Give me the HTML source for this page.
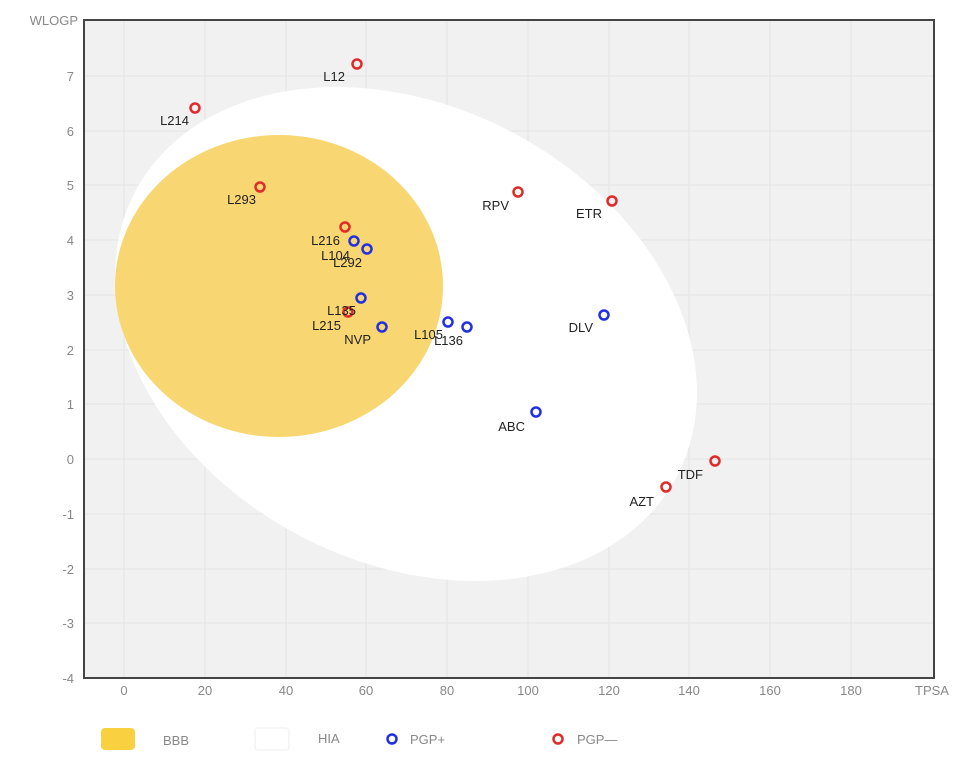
<!DOCTYPE html>
<html><head><meta charset="utf-8"><style>
html,body{margin:0;padding:0;background:#fff;}
svg{display:block;font-family:"Liberation Sans",sans-serif;}
.t{fill:#888;font-size:13px;}
.l{fill:#222;font-size:13px;}
</style></head><body>
<svg width="970" height="772" viewBox="0 0 970 772">
<rect x="84" y="20" width="850" height="658" fill="#f1f1f1"/>
<g stroke="#e4e4e4" stroke-width="1">
<line x1="124" y1="20" x2="124" y2="678"/><line x1="205" y1="20" x2="205" y2="678"/><line x1="286" y1="20" x2="286" y2="678"/><line x1="366" y1="20" x2="366" y2="678"/><line x1="447" y1="20" x2="447" y2="678"/><line x1="528" y1="20" x2="528" y2="678"/><line x1="609" y1="20" x2="609" y2="678"/><line x1="689" y1="20" x2="689" y2="678"/><line x1="770" y1="20" x2="770" y2="678"/><line x1="851" y1="20" x2="851" y2="678"/>
<line x1="84" y1="76" x2="934" y2="76"/><line x1="84" y1="131" x2="934" y2="131"/><line x1="84" y1="185" x2="934" y2="185"/><line x1="84" y1="240" x2="934" y2="240"/><line x1="84" y1="295" x2="934" y2="295"/><line x1="84" y1="350" x2="934" y2="350"/><line x1="84" y1="404" x2="934" y2="404"/><line x1="84" y1="459" x2="934" y2="459"/><line x1="84" y1="514" x2="934" y2="514"/><line x1="84" y1="569" x2="934" y2="569"/><line x1="84" y1="623" x2="934" y2="623"/>
</g>
<ellipse cx="406" cy="334" rx="306" ry="228" transform="rotate(27.7 406 334)" fill="#fff"/>
<ellipse cx="279" cy="286" rx="164" ry="151" fill="#f8d46a" opacity="0.95"/>
<rect x="84" y="20" width="850" height="658" fill="none" stroke="#444" stroke-width="2"/>
<g class="t" text-anchor="end">
<text x="74" y="81">7</text><text x="74" y="136">6</text><text x="74" y="190">5</text><text x="74" y="245">4</text><text x="74" y="300">3</text><text x="74" y="355">2</text><text x="74" y="409">1</text><text x="74" y="464">0</text><text x="74" y="519">-1</text><text x="74" y="574">-2</text><text x="74" y="628">-3</text><text x="74" y="683">-4</text>
<text x="78" y="25">WLOGP</text>
</g>
<g class="t" text-anchor="middle">
<text x="124" y="695">0</text><text x="205" y="695">20</text><text x="286" y="695">40</text><text x="366" y="695">60</text><text x="447" y="695">80</text><text x="528" y="695">100</text><text x="609" y="695">120</text><text x="689" y="695">140</text><text x="770" y="695">160</text><text x="851" y="695">180</text><text x="932" y="695">TPSA</text>
</g>
<g fill="none" stroke-width="2.5">
<g stroke="#e02b2b">
<circle cx="357" cy="64" r="4.5"/><circle cx="195" cy="108" r="4.5"/><circle cx="260" cy="187" r="4.5"/><circle cx="345" cy="227" r="4.5"/><circle cx="348" cy="312" r="4.5"/><circle cx="518" cy="192" r="4.5"/><circle cx="612" cy="201" r="4.5"/><circle cx="715" cy="461" r="4.5"/><circle cx="666" cy="487" r="4.5"/>
</g>
<g stroke="#2230e0">
<circle cx="354" cy="241" r="4.5"/><circle cx="367" cy="249" r="4.5"/><circle cx="361" cy="298" r="4.5"/><circle cx="382" cy="327" r="4.5"/><circle cx="448" cy="322" r="4.5"/><circle cx="467" cy="327" r="4.5"/><circle cx="604" cy="315" r="4.5"/><circle cx="536" cy="412" r="4.5"/>
</g></g>
<g class="l" text-anchor="end">
<text x="345" y="81">L12</text><text x="189" y="125">L214</text><text x="256" y="204">L293</text><text x="340" y="245">L216</text><text x="350" y="260">L104</text><text x="362" y="267">L292</text><text x="356" y="315">L135</text><text x="341" y="330">L215</text><text x="371" y="344">NVP</text><text x="443" y="339">L105</text><text x="463" y="345">L136</text><text x="509" y="210">RPV</text><text x="602" y="218">ETR</text><text x="593" y="332">DLV</text><text x="525" y="431">ABC</text><text x="703" y="479">TDF</text><text x="654" y="506">AZT</text>
</g>
<rect x="101" y="728" width="34" height="22" rx="4" fill="#f8d040"/>
<text x="163" y="745" class="t" fill="#666">BBB</text>
<rect x="255" y="728" width="34" height="22" rx="3" fill="#fff" stroke="#eee"/>
<text x="318" y="743" class="t">HIA</text>
<circle cx="392" cy="739" r="4.5" fill="none" stroke="#2230e0" stroke-width="2.5"/>
<text x="410" y="744" class="t">PGP+</text>
<circle cx="558" cy="739" r="4.5" fill="none" stroke="#e02b2b" stroke-width="2.5"/>
<text x="577" y="744" class="t">PGP—</text>
</svg>
</body></html>
